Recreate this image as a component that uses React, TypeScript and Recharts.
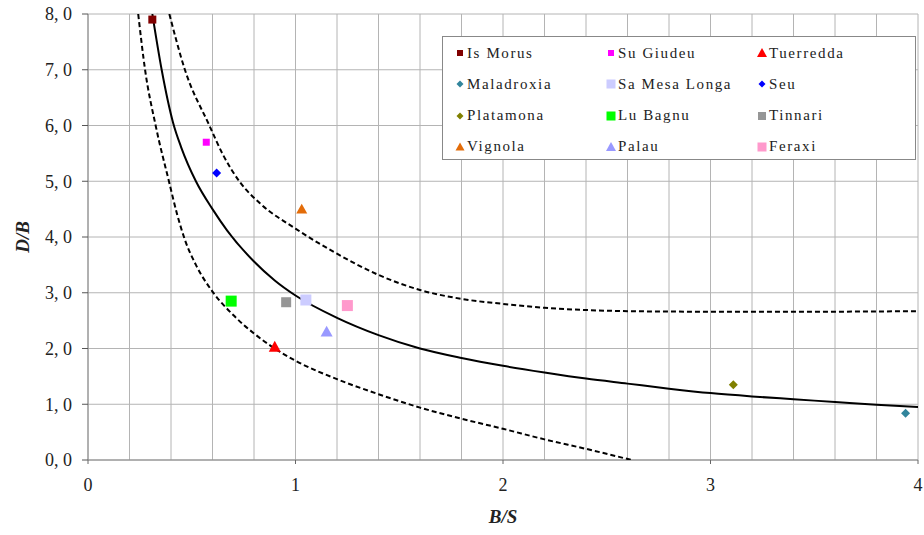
import { ScatterChart, Scatter, XAxis, YAxis, CartesianGrid } from 'recharts';

// sites (B/S, D/B)
const SITE_NAMES = ['Is Morus', 'Su Giudeu', 'Tuerredda', 'Maladroxia', 'Sa Mesa Longa', 'Seu', 'Platamona', 'Lu Bagnu', 'Tinnari', 'Vignola', 'Palau', 'Feraxi'];
const SITE_BS = [0.31, 0.57, 0.9, 3.94, 1.05, 0.62, 3.11, 0.69, 0.955, 1.03, 1.15, 1.25];
const SITE_DB = [7.9, 5.7, 2.03, 0.84, 2.87, 5.15, 1.35, 2.85, 2.83, 4.5, 2.3, 2.77];
const SITE_COLORS = ['#800000', '#ff00ff', '#ff0000', '#31859c', '#ccccff', '#0000ff', '#808000', '#00ff00', '#969696', '#e36c09', '#9999ff', '#ff99cc'];
const SITE_SHAPES = ['square', 'square', 'triangle', 'diamond', 'square', 'diamond', 'diamond', 'square', 'square', 'triangle', 'triangle', 'square'];
const SITE_SIZES = [8, 7, 12, 9, 11, 9, 9, 11, 10, 11, 12, 11];

// fitted curve and envelope
const MEAN_BS = [0.31, 0.355, 0.41, 0.45, 0.52, 0.6, 0.67, 0.8, 0.9, 1.0, 1.2, 1.4, 1.6, 1.8, 2.0, 2.2, 2.4, 2.6, 2.8, 3.0, 3.2, 3.4, 3.6, 3.8, 4.0];
const MEAN_DB = [8.0, 7.0, 6.05, 5.6, 5.0, 4.5, 4.12, 3.56, 3.22, 2.95, 2.55, 2.24, 2.0, 1.83, 1.69, 1.57, 1.46, 1.37, 1.28, 1.2, 1.14, 1.09, 1.04, 0.99, 0.95];
const UPPER_BS = [0.392, 0.467, 0.585, 0.65, 0.733, 0.83, 1.0, 1.2, 1.4, 1.6, 1.8, 2.0, 2.2, 2.4, 2.6, 3.0, 3.5, 4.0];
const UPPER_DB = [8.0, 7.0, 6.0, 5.48, 4.98, 4.6, 4.15, 3.7, 3.32, 3.05, 2.89, 2.8, 2.73, 2.69, 2.67, 2.66, 2.66, 2.67];
const LOWER_BS = [0.242, 0.275, 0.326, 0.39, 0.43, 0.467, 0.52, 0.6, 0.7, 0.8, 0.9, 1.0, 1.2, 1.4, 1.6, 1.8, 2.0, 2.2, 2.4, 2.62];
const LOWER_DB = [8.0, 7.0, 6.0, 5.0, 4.4, 3.95, 3.5, 3.02, 2.6, 2.27, 2.0, 1.78, 1.45, 1.18, 0.94, 0.74, 0.56, 0.37, 0.2, 0.0];

const X_TICKS = [0, 0.2, 0.4, 0.6, 0.8, 1, 1.2, 1.4, 1.6, 1.8, 2, 2.2, 2.4, 2.6, 2.8, 3, 3.2, 3.4, 3.6, 3.8, 4];
const Y_TICKS = [0, 1, 2, 3, 4, 5, 6, 7, 8];

const zip = (xs: number[], ys: number[]) => xs.map((x, i) => ({ x, y: ys[i] }));

const SERIF = '"Liberation Serif", "DejaVu Serif", serif';

function Marker({ cx, cy, kind, size, color }: any) {
    const h = size / 2;
    if (kind === 'square') return <rect x={cx - h} y={cy - h} width={size} height={size} fill={color} />;
    if (kind === 'diamond') return <polygon points={`${cx},${cy - h} ${cx + h},${cy} ${cx},${cy + h} ${cx - h},${cy}`} fill={color} />;
    return <polygon points={`${cx},${cy - h} ${cx + h},${cy + h * 0.8} ${cx - h},${cy + h * 0.8}`} fill={color} />;
}

function XTick({ x, y, payload }: any) {
    const v = payload.value;
    if (Math.abs(v - Math.round(v)) > 1e-6) return <g />;
    return (
        <g>
            <line x1={x} x2={x} y1={y - 18} y2={y - 14} stroke="#666" />
            <text x={x} y={y} dy="0.71em" textAnchor="middle" fontFamily={SERIF} fontSize={18} fill="#222">{v}</text>
        </g>
    );
}

function YTitle({ viewBox }: any) {
    const cx = viewBox.x + 22;
    const cy = viewBox.y + viewBox.height / 2;
    return (
        <text x={cx} y={cy} transform={`rotate(-90 ${cx} ${cy})`} textAnchor="middle" dominantBaseline="central"
            fontFamily={SERIF} fontSize={19} fontStyle="italic" fontWeight="bold" fill="#222">D/B</text>
    );
}

function XTitle({ viewBox }: any) {
    const cx = viewBox.x + viewBox.width / 2;
    return (
        <text x={cx} y={viewBox.y + 56} textAnchor="middle" dominantBaseline="central"
            fontFamily={SERIF} fontSize={19} fontStyle="italic" fontWeight="bold" fill="#222">B/S</text>
    );
}

export default function App() {
    return (
        <div style={{ position: 'absolute', left: 0, top: 0, width: 924, height: 535, background: '#fff' }}>
            <ScatterChart width={924} height={535} margin={{ top: 14, right: 6, bottom: 10, left: 0 }}>
                <CartesianGrid stroke="#b4b4b4" />
                <XAxis type="number" dataKey="x" domain={[0, 4]} ticks={X_TICKS} interval={0} allowDataOverflow
                    height={65} tickLine={false} tickSize={4} tickMargin={14} tick={<XTick />}
                    axisLine={{ stroke: '#888' }} label={{ content: <XTitle /> }} />
                <YAxis type="number" dataKey="y" domain={[0, 8]} ticks={Y_TICKS} interval={0} allowDataOverflow
                    width={88} tickSize={6} tickMargin={10} tickLine={{ stroke: '#555' }} axisLine={{ stroke: '#888' }}
                    tick={{ fontFamily: SERIF, fontSize: 18, fill: '#222' }}
                    tickFormatter={(v: number) => v.toFixed(1).replace('.', ', ')}
                    label={{ content: <YTitle /> }} />
                <Scatter data={zip(UPPER_BS, UPPER_DB)} line={{ stroke: '#000', strokeWidth: 2, strokeDasharray: '5 3' }}
                    lineJointType="monotoneX" shape={() => <g />} isAnimationActive={false} />
                <Scatter data={zip(LOWER_BS, LOWER_DB)} line={{ stroke: '#000', strokeWidth: 2, strokeDasharray: '5 3' }}
                    lineJointType="monotoneX" shape={() => <g />} isAnimationActive={false} />
                <Scatter data={zip(MEAN_BS, MEAN_DB)} line={{ stroke: '#000', strokeWidth: 2 }}
                    lineJointType="monotoneX" shape={() => <g />} isAnimationActive={false} />
                {SITE_NAMES.map((name, i) => (
                    <Scatter key={name} name={name} data={[{ x: SITE_BS[i], y: SITE_DB[i] }]} isAnimationActive={false}
                        shape={(p: any) => <Marker cx={p.cx} cy={p.cy} kind={SITE_SHAPES[i]} size={SITE_SIZES[i]} color={SITE_COLORS[i]} />} />
                ))}
            </ScatterChart>

            {/* legend box */}
            <div style={{ position: 'absolute', left: 442, top: 36, width: 472, height: 122, border: '1px solid #888', background: '#fff' }}>
                {SITE_NAMES.map((name, i) => {
                    const col = i % 3;
                    const row = Math.floor(i / 3);
                    const ms = Math.round(SITE_SIZES[i] * 0.8);
                    return (
                        <div key={name} style={{ position: 'absolute', left: 11 + col * 151, top: 16 + row * 31.3 - 10, height: 20, display: 'flex', alignItems: 'center' }}>
                            <svg width={12} height={12} style={{ marginRight: 1 }}>
                                <Marker cx={6} cy={6} kind={SITE_SHAPES[i]} size={ms} color={SITE_COLORS[i]} />
                            </svg>
                            <span style={{ fontFamily: SERIF, fontSize: 15, letterSpacing: 1.6, color: '#222', whiteSpace: 'nowrap' }}>{name}</span>
                        </div>
                    );
                })}
            </div>
        </div>
    );
}
